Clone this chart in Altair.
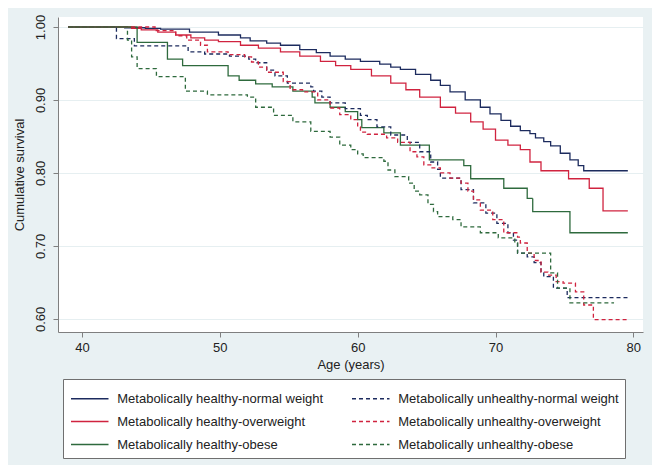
import altair as alt
import pandas as pd

groups = [
    "Metabolically healthy-normal weight",
    "Metabolically healthy-overweight",
    "Metabolically healthy-obese",
    "Metabolically unhealthy-normal weight",
    "Metabolically unhealthy-overweight",
    "Metabolically unhealthy-obese",
]

hn_age = [39.0, 43.1, 44.6, 45.7, 47.8, 49.9, 51.5, 52.2, 53.4, 54.4, 55.8, 57.0, 58.0, 59.1, 60.2, 61.6,
          62.4, 63.1, 64.2, 65.3, 66.0, 66.7, 67.8, 68.9, 69.6, 70.4, 71.1, 71.8, 72.5, 72.9, 73.5, 74.0,
          74.7, 75.4, 76.0, 76.4, 79.6]
hn_surv = [1.000, 0.999, 0.998, 0.997, 0.993, 0.989, 0.985, 0.981, 0.978, 0.975, 0.969, 0.965, 0.960, 0.956,
           0.953, 0.949, 0.945, 0.942, 0.935, 0.927, 0.920, 0.911, 0.900, 0.890, 0.881, 0.872, 0.864, 0.858,
           0.854, 0.848, 0.843, 0.837, 0.827, 0.818, 0.810, 0.803, 0.803]

ho_age = [39.0, 43.6, 44.3, 45.5, 46.8, 47.9, 48.9, 49.9, 51.5, 52.8, 54.4, 55.8, 57.3, 58.4, 59.5, 61.0,
          62.4, 63.5, 64.5, 66.0, 67.1, 68.2, 69.1, 70.0, 70.9, 71.8, 72.5, 73.3, 75.3, 76.8, 77.8, 79.6]
ho_surv = [1.000, 0.998, 0.996, 0.993, 0.989, 0.985, 0.982, 0.980, 0.975, 0.971, 0.966, 0.960, 0.953, 0.947,
           0.942, 0.933, 0.923, 0.914, 0.904, 0.890, 0.882, 0.870, 0.860, 0.845, 0.838, 0.832, 0.815, 0.803,
           0.792, 0.779, 0.748, 0.748]

hob_age = [39.0, 44.0, 46.2, 47.3, 50.6, 51.4, 52.6, 53.8, 55.3, 56.7, 56.9, 58.0, 59.1, 60.0, 60.3, 61.9,
           63.1, 65.2, 67.7, 68.2, 70.6, 72.3, 72.7, 75.4, 79.6]
hob_surv = [1.000, 0.979, 0.956, 0.947, 0.933, 0.927, 0.922, 0.918, 0.912, 0.904, 0.896, 0.890, 0.884, 0.873,
            0.862, 0.855, 0.838, 0.818, 0.810, 0.792, 0.779, 0.765, 0.747, 0.718, 0.718]

un_age = [39.0, 42.5, 43.8, 47.7, 48.9, 50.7, 52.1, 52.6, 53.4, 54.0, 54.9, 56.6, 56.8, 57.4, 58.0, 59.1,
          60.2, 60.7, 61.4, 62.4, 63.6, 64.5, 65.3, 65.8, 66.0, 67.5, 68.4, 69.3, 70.1, 70.9, 71.3, 71.6,
          72.3, 72.8, 73.3, 73.5, 74.2, 75.2, 79.6]
un_surv = [1.000, 0.984, 0.974, 0.966, 0.963, 0.960, 0.956, 0.951, 0.941, 0.933, 0.923, 0.918, 0.912, 0.904,
           0.896, 0.888, 0.879, 0.873, 0.863, 0.852, 0.842, 0.829, 0.815, 0.805, 0.793, 0.777, 0.759, 0.745,
           0.731, 0.718, 0.708, 0.690, 0.685, 0.677, 0.663, 0.658, 0.642, 0.629, 0.629]

uo_age = [39.0, 45.3, 46.8, 47.6, 48.6, 49.1, 50.6, 51.8, 52.3, 52.8, 53.4, 54.6, 55.1, 56.0, 57.1, 58.0,
          58.7, 59.5, 60.0, 60.2, 60.7, 62.1, 62.9, 63.8, 64.3, 64.8, 65.3, 66.0, 66.7, 67.5, 68.0, 68.4,
          68.9, 69.8, 70.6, 71.6, 71.8, 72.3, 72.8, 73.3, 73.8, 74.4, 74.9, 75.8, 76.4, 77.1, 79.6]
uo_surv = [1.000, 0.995, 0.988, 0.982, 0.975, 0.966, 0.962, 0.959, 0.952, 0.945, 0.938, 0.925, 0.914, 0.911,
           0.900, 0.889, 0.880, 0.873, 0.863, 0.856, 0.853, 0.848, 0.842, 0.829, 0.822, 0.811, 0.807, 0.800,
           0.793, 0.786, 0.775, 0.763, 0.749, 0.736, 0.718, 0.712, 0.704, 0.690, 0.680, 0.664, 0.660, 0.651,
           0.649, 0.637, 0.619, 0.599, 0.599]

uob_age = [39.0, 43.3, 43.6, 44.0, 45.4, 47.5, 49.1, 52.0, 52.6, 53.9, 55.3, 56.6, 58.0, 58.7, 59.5, 60.0,
           60.4, 61.9, 62.2, 62.7, 63.7, 64.1, 64.5, 65.1, 65.5, 65.8, 66.9, 67.5, 68.9, 70.2, 71.4, 71.6,
           74.0, 74.5, 75.4, 78.6]
uob_surv = [1.000, 0.982, 0.959, 0.943, 0.932, 0.912, 0.907, 0.904, 0.890, 0.879, 0.870, 0.857, 0.849, 0.838,
            0.832, 0.826, 0.821, 0.816, 0.804, 0.795, 0.786, 0.775, 0.770, 0.757, 0.747, 0.740, 0.736, 0.726,
            0.718, 0.711, 0.704, 0.690, 0.663, 0.642, 0.622, 0.622]

x_ticks = [40, 50, 60, 70, 80]
y_ticks = [0.6, 0.7, 0.8, 0.9, 1.0]

series = [
    (groups[0], hn_age, hn_surv),
    (groups[1], ho_age, ho_surv),
    (groups[2], hob_age, hob_surv),
    (groups[3], un_age, un_surv),
    (groups[4], uo_age, uo_surv),
    (groups[5], uob_age, uob_surv),
]

rows = []
for name, ages, survs in series:
    assert len(ages) == len(survs), name
    for a, s in zip(ages, survs):
        rows.append({"group": name, "age": a, "surv": s})
df = pd.DataFrame(rows)

NAVY, RED, GREEN = "#1c2b5e", "#d0233f", "#2e6a3d"
color_range = [NAVY, RED, GREEN, NAVY, RED, GREEN]
dash_range = [[1, 0], [1, 0], [1, 0], [4, 3], [4, 3], [4, 3]]

FONT = "Liberation Sans"

leg = dict(
    title=None, orient="none", legendX=5, legendY=362, columns=2, direction="vertical",
    symbolType="M-1.5,0L1.5,0", symbolSize=625, symbolStrokeWidth=1.3, symbolOffset=7.25,
    labelFontSize=13, labelFont=FONT, labelColor="#222222", labelLimit=400,
    labelOffset=14, rowPadding=2, columnPadding=25, padding=6,
    fillColor="white", strokeColor="#6f6f6f",
)

chart = alt.Chart(df).mark_line(interpolate="step-after", strokeWidth=1.3).encode(
    x=alt.X("age:Q",
            scale=alt.Scale(domain=[38.26, 80.7], nice=False, zero=False),
            axis=alt.Axis(values=x_ticks, title="Age (years)", labelPadding=4, titlePadding=4,
                          grid=False)),
    y=alt.Y("surv:Q",
            scale=alt.Scale(domain=[0.582, 1.0137], nice=False, zero=False),
            axis=alt.Axis(values=y_ticks, format=".2f", title="Cumulative survival",
                          labelAngle=270, labelAlign="center", labelBaseline="bottom",
                          labelPadding=6, titlePadding=8, grid=True)),
    color=alt.Color("group:N", scale=alt.Scale(domain=groups, range=color_range),
                    legend=alt.Legend(**leg)),
    strokeDash=alt.StrokeDash("group:N", scale=alt.Scale(domain=groups, range=dash_range),
                              legend=alt.Legend(**leg)),
).properties(
    width=585, height=315,
    autosize=alt.AutoSizeParams(type="none"),
    padding={"left": 50, "top": 9, "right": 9, "bottom": 133},
    background="#e9f1f3",
).configure_view(
    fill="white", stroke=None,
).configure_axis(
    labelFont=FONT, titleFont=FONT, labelFontSize=13, titleFontSize=13,
    labelColor="#222222", titleColor="#222222", titleFontWeight="normal",
    domainColor="#7f7f7f", tickColor="#7f7f7f", tickSize=5, domainWidth=1,
    gridColor="#e6eff1", gridWidth=1,
)

chart.save("out.html", embed_options={"renderer": "svg", "actions": False})
